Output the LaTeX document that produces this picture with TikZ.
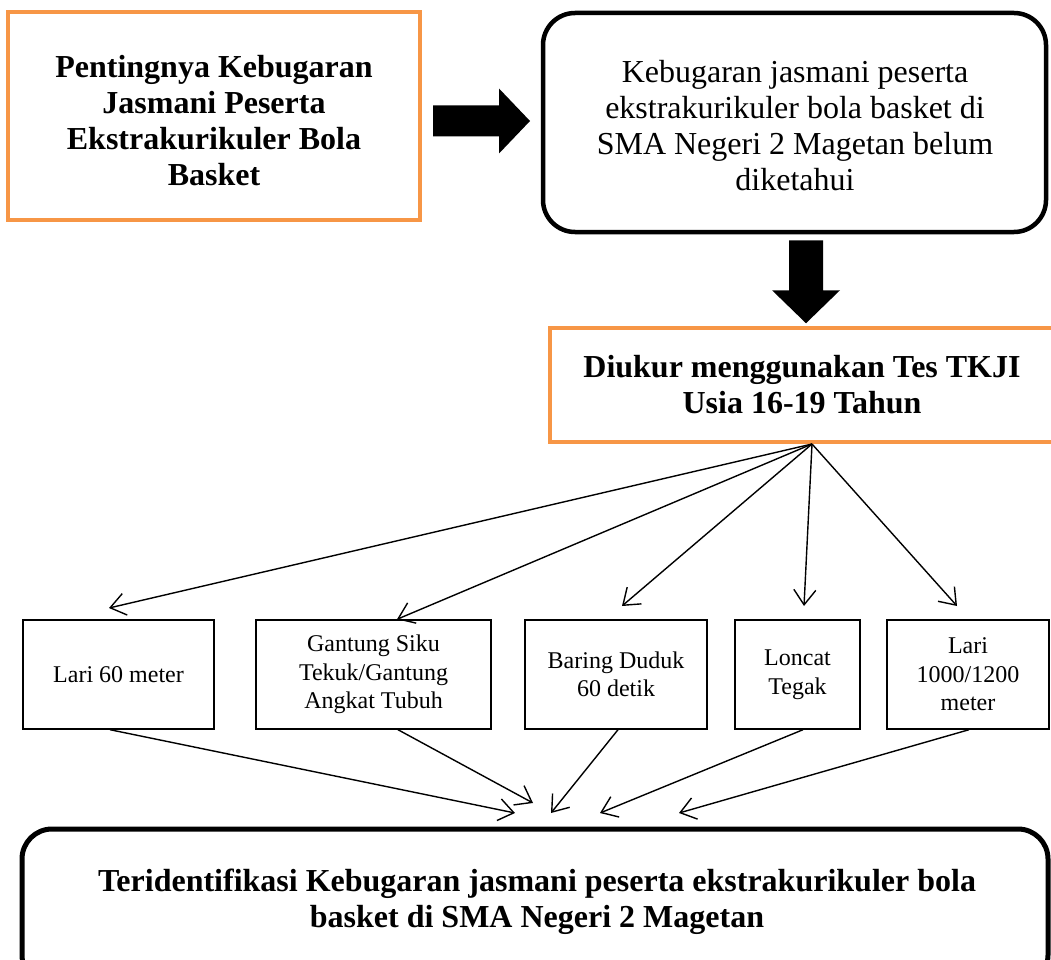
\documentclass[tikz,border=0pt]{standalone}
\usepackage{fontspec}
\setmainfont{Liberation Serif}
\usetikzlibrary{arrows.meta,calc}
\definecolor{accent}{HTML}{F79646}
\begin{document}
\begin{tikzpicture}[x=1pt,y=-1pt,
  orangebox/.style={draw=accent,line width=4pt,inner sep=0pt,align=center,font=\normalfont\bfseries\fontsize{32}{36}\selectfont},
  roundbox/.style={draw=black,line width=4.5pt,rounded corners=32pt,inner sep=0pt},
  testbox/.style={draw=black,line width=1.4pt,inner sep=0pt,align=center,font=\normalfont\mdseries\fontsize{24}{28.5}\selectfont},
  boldtxt/.style={align=center,inner sep=0pt,font=\normalfont\bfseries\fontsize{32}{36}\selectfont},
  plaintxt/.style={align=center,inner sep=0pt,font=\normalfont\mdseries\fontsize{32}{36}\selectfont},
  thinarrow/.style={line width=1.4pt,-{Straight Barb[length=15pt,width=22pt,line width=1.4pt]}},
  block/.style={fill=black}]
\useasboundingbox (0,0) rectangle (1051,960);

% top row
\node[orangebox,minimum width=412pt,minimum height=208pt] (p1) at (214,116) {};
\node[boldtxt] (p1t) at (214,121)
  {Pentingnya Kebugaran\\Jasmani Peserta\\Ekstrakurikuler Bola\\Basket};
\node[roundbox,minimum width=503pt,minimum height=219pt] (p2) at (794.5,122.5) {};
\node[plaintxt] (p2t) at (795,126)
  {Kebugaran jasmani peserta\\ekstrakurikuler bola basket di\\SMA Negeri 2 Magetan belum\\diketahui};

% block arrow right
\coordinate (ra) at ($(p1.east)+(11,5)$);
\fill[block] (ra) ++(0,-15.5) -- ++(66,0) -- ++(0,-17) -- ++(31,32.5) -- ++(-31,32.5) -- ++(0,-17) -- ++(-66,0) -- cycle;

% measurement box
\node[orangebox,minimum width=504pt,minimum height=114pt] (p3) at (802,385)
  {Diukur menggunakan Tes TKJI\\Usia 16-19 Tahun};

% block arrow down
\coordinate (da) at ($(p2.south)+(11.5,6)$);
\fill[block] (da) ++(-17,0) -- ++(34,0) -- ++(0,50) -- ++(17,0) -- ++(-34,33) -- ++(-34,-33) -- ++(17,0) -- cycle;

% test boxes
\node[testbox,minimum width=191pt,minimum height=109pt] (ta) at (118.5,674.5) {Lari 60 meter};
\node[testbox,minimum width=235pt,minimum height=109pt] (tb) at (373.5,674.5) {Gantung Siku\\Tekuk/Gantung\\Angkat Tubuh};
\node[testbox,minimum width=182pt,minimum height=109pt] (tc) at (616,674.5) {Baring Duduk\\60 detik};
\node[testbox,minimum width=125pt,minimum height=109pt] (td) at (797.5,674.5) {Loncat\\Tegak};
\node[testbox,minimum width=162pt,minimum height=109pt] (te) at (968,674.5) {Lari\\1000/1200\\meter};

% bottom box
\node[draw=black,line width=5pt,rounded corners=30pt,minimum width=1026pt,minimum height=156pt,inner sep=0pt] (p4) at (535,907) {};
\node[boldtxt] (p4t) at (537,902) {Teridentifikasi Kebugaran jasmani peserta ekstrakurikuler bola\\basket di SMA Negeri 2 Magetan};

% fan-out
\coordinate (hub) at ($(p3.south)+(10,0)$);
\coordinate (oa) at (109,608);
\coordinate (ob) at ($(tb.north)+(23.5,0)$);
\coordinate (oc) at (622,606);
\coordinate (od) at (804,606);
\coordinate (oe) at (957,606);
\foreach \t in {oa,ob,oc,od,oe} \draw[thinarrow] (hub) -- (\t);

% fan-in
\coordinate (ia) at (515,813);
\coordinate (ib) at (533,803);
\coordinate (ic) at (551,813);
\coordinate (id) at (600,813);
\coordinate (ie) at (679,813);
\draw[thinarrow] ($(ta.south)+(-8.5,0)$) -- (ia);
\draw[thinarrow] ($(tb.south)+(24.5,0)$) -- (ib);
\draw[thinarrow] ($(tc.south)+(2,0)$) -- (ic);
\draw[thinarrow] ($(td.south)+(5.5,0)$) -- (id);
\draw[thinarrow] ($(te.south)+(1,0)$) -- (ie);
\end{tikzpicture}
\end{document}
